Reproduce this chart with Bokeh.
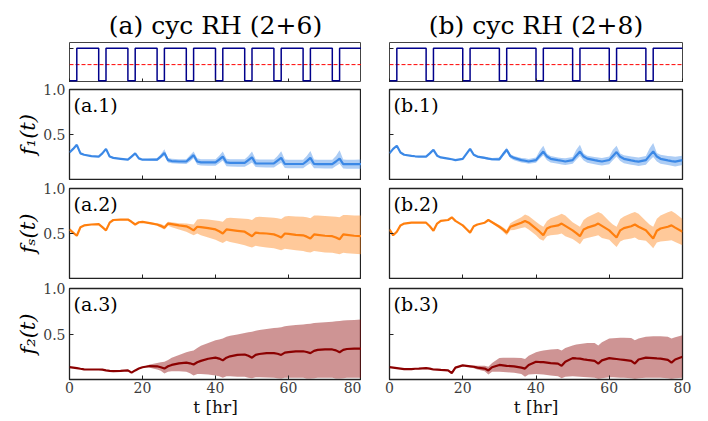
from bokeh.plotting import figure
from bokeh.layouts import column, row
from bokeh.models import FixedTicker, Label, Range1d, PrintfTickFormatter
from bokeh.embed import file_html
from bokeh.resources import INLINE

# ---------------- data ----------------
col_titles = ["(a) cyc RH (2+6)", "(b) cyc RH (2+8)"]
panel_tags = [["(a.1)", "(a.2)", "(a.3)"], ["(b.1)", "(b.2)", "(b.3)"]]
y_labels = ["f\u2081(t)", "f\u209b(t)", "f\u2082(t)"]
x_label = "t [hr]"
x_ticks = [0, 20, 40, 60, 80]
y_ticks = [0.5, 1.0]

# RH square-wave signals (switch times and level held after each time)
rhA_t = [0, 2, 8, 10, 16, 18, 24, 26, 32, 34, 40, 42, 48, 50, 56, 58, 64, 66, 72, 74, 80]
rhA_v = [0, 1, 0, 1, 0, 1, 0, 1, 0, 1, 0, 1, 0, 1, 0, 1, 0, 1, 0, 1, 1]
rhB_t = [0, 2, 10, 12, 20, 22, 30, 32, 40, 42, 50, 52, 60, 62, 70, 72, 80]
rhB_v = [0, 1, 0, 1, 0, 1, 0, 1, 0, 1, 0, 1, 0, 1, 0, 1, 1]
rh_threshold = 0.5

# column (a): time grid
tA = [0, 1, 2, 3, 4, 6,
      8, 9, 10, 11, 12, 14,
      16, 17, 18, 19, 20, 22,
      24, 25, 26, 27, 28, 30,
      32, 33, 34, 35, 36, 38,
      40, 41, 42, 43, 44, 46,
      48, 49, 50, 51, 52, 54,
      56, 57, 58, 59, 60, 62,
      64, 65, 66, 67, 68, 70,
      72, 73, 74, 75, 76, 78,
      80]
a1_mean = [0.30, 0.34, 0.385, 0.29, 0.275, 0.26,
           0.255, 0.29, 0.34, 0.255, 0.24, 0.23,
           0.22, 0.255, 0.29, 0.235, 0.22, 0.22,
           0.22, 0.255, 0.295, 0.215, 0.205, 0.20,
           0.20, 0.235, 0.27, 0.20, 0.19, 0.19,
           0.19, 0.22, 0.255, 0.19, 0.185, 0.185,
           0.185, 0.215, 0.245, 0.18, 0.178, 0.178,
           0.178, 0.21, 0.24, 0.172, 0.172, 0.172,
           0.172, 0.205, 0.24, 0.172, 0.17, 0.17,
           0.17, 0.20, 0.232, 0.17, 0.17, 0.17,
           0.172]
a2_mean = [0.545, 0.51, 0.475, 0.57, 0.59, 0.60,
           0.605, 0.57, 0.535, 0.62, 0.65, 0.655,
           0.655, 0.63, 0.60, 0.625, 0.63, 0.615,
           0.60, 0.585, 0.565, 0.61, 0.605, 0.59,
           0.58, 0.56, 0.535, 0.575, 0.57, 0.56,
           0.545, 0.525, 0.50, 0.545, 0.54, 0.53,
           0.52, 0.495, 0.47, 0.51, 0.505, 0.50,
           0.49, 0.475, 0.455, 0.50, 0.495, 0.485,
           0.48, 0.465, 0.445, 0.49, 0.485, 0.475,
           0.47, 0.455, 0.435, 0.49, 0.485, 0.475,
           0.47]
a3_mean = [0.135, 0.13, 0.125, 0.118, 0.112, 0.11,
           0.11, 0.108, 0.10, 0.095, 0.092, 0.095,
           0.10, 0.075, 0.10, 0.12, 0.135, 0.148,
           0.145, 0.135, 0.12, 0.145, 0.16, 0.178,
           0.185, 0.178, 0.165, 0.19, 0.205, 0.228,
           0.24, 0.23, 0.21, 0.24, 0.255, 0.27,
           0.275, 0.26, 0.24, 0.27, 0.28, 0.29,
           0.29, 0.283, 0.27, 0.295, 0.30, 0.31,
           0.31, 0.302, 0.29, 0.315, 0.325, 0.33,
           0.33, 0.32, 0.30, 0.325, 0.335, 0.34,
           0.34]
# bands of column (a) start at t = 20
tA_band = tA[tA.index(20):]
a1_hi = [0.22, 0.23,
         0.235, 0.28, 0.335, 0.24, 0.23, 0.225,
         0.225, 0.27, 0.31, 0.235, 0.225, 0.225,
         0.225, 0.265, 0.31, 0.23, 0.225, 0.225,
         0.225, 0.26, 0.31, 0.225, 0.222, 0.222,
         0.222, 0.26, 0.315, 0.222, 0.22, 0.22,
         0.22, 0.26, 0.318, 0.222, 0.22, 0.22,
         0.22, 0.26, 0.325, 0.222, 0.22, 0.22,
         0.222]
a1_lo = [0.22, 0.21,
         0.205, 0.235, 0.265, 0.19, 0.18, 0.175,
         0.172, 0.20, 0.235, 0.165, 0.155, 0.153,
         0.152, 0.18, 0.21, 0.148, 0.145, 0.143,
         0.142, 0.165, 0.19, 0.138, 0.135, 0.133,
         0.132, 0.16, 0.185, 0.128, 0.126, 0.125,
         0.125, 0.155, 0.18, 0.125, 0.124, 0.123,
         0.123, 0.15, 0.175, 0.122, 0.12, 0.12,
         0.12]
a2_hi = [0.63, 0.625,
         0.615, 0.605, 0.59, 0.63, 0.625, 0.615,
         0.61, 0.605, 0.60, 0.655, 0.66, 0.655,
         0.645, 0.64, 0.63, 0.67, 0.675, 0.67,
         0.665, 0.66, 0.65, 0.68, 0.685, 0.68,
         0.675, 0.67, 0.66, 0.69, 0.695, 0.69,
         0.685, 0.68, 0.67, 0.70, 0.70, 0.695,
         0.69, 0.685, 0.68, 0.705, 0.705, 0.70,
         0.70]
a2_lo = [0.63, 0.605,
         0.585, 0.565, 0.545, 0.585, 0.57, 0.545,
         0.52, 0.50, 0.48, 0.50, 0.48, 0.455,
         0.43, 0.41, 0.395, 0.42, 0.405, 0.39,
         0.37, 0.355, 0.345, 0.365, 0.355, 0.345,
         0.335, 0.325, 0.315, 0.33, 0.325, 0.315,
         0.305, 0.295, 0.29, 0.305, 0.30, 0.29,
         0.285, 0.278, 0.27, 0.285, 0.28, 0.275,
         0.27]
a3_hi = [0.135, 0.165,
         0.18, 0.19, 0.195, 0.215, 0.24, 0.27,
         0.30, 0.31, 0.32, 0.345, 0.37, 0.40,
         0.43, 0.44, 0.45, 0.47, 0.48, 0.495,
         0.51, 0.52, 0.525, 0.535, 0.545, 0.555,
         0.565, 0.57, 0.575, 0.585, 0.59, 0.60,
         0.605, 0.61, 0.612, 0.62, 0.625, 0.63,
         0.635, 0.64, 0.642, 0.648, 0.65, 0.655,
         0.66]
a3_lo = [0.135, 0.13,
         0.11, 0.095, 0.065, 0.085, 0.09, 0.09,
         0.085, 0.07, 0.045, 0.06, 0.06, 0.055,
         0.045, 0.035, 0.02, 0.035, 0.035, 0.03,
         0.03, 0.02, 0.015, 0.025, 0.025, 0.022,
         0.02, 0.015, 0.01, 0.018, 0.02, 0.018,
         0.018, 0.012, 0.01, 0.015, 0.018, 0.018,
         0.018, 0.012, 0.01, 0.015, 0.018, 0.018,
         0.018]

# column (b): time grid
tB = [0, 1, 2, 3, 4, 6, 7, 8,
      10, 11, 12, 13, 14, 16, 17, 18,
      20, 21, 22, 23, 24, 26, 27, 28,
      30, 31, 32, 33, 34, 36, 37, 38,
      40, 41, 42, 43, 44, 46, 47, 48,
      50, 51, 52, 53, 54, 56, 57, 58,
      60, 61, 62, 63, 64, 66, 67, 68,
      70, 71, 72, 73, 74, 76, 77, 78,
      80]
b1_mean = [0.29, 0.34, 0.375, 0.30, 0.275, 0.262, 0.258, 0.255,
           0.255, 0.29, 0.33, 0.265, 0.245, 0.232, 0.225, 0.215,
           0.23, 0.285, 0.34, 0.275, 0.255, 0.24, 0.232, 0.225,
           0.225, 0.28, 0.33, 0.26, 0.24, 0.215, 0.208, 0.20,
           0.215, 0.265, 0.31, 0.255, 0.23, 0.215, 0.208, 0.20,
           0.215, 0.265, 0.31, 0.255, 0.232, 0.215, 0.207, 0.20,
           0.217, 0.262, 0.305, 0.252, 0.23, 0.213, 0.205, 0.198,
           0.215, 0.265, 0.312, 0.255, 0.23, 0.213, 0.205, 0.198,
           0.215]
b2_mean = [0.545, 0.48, 0.52, 0.59, 0.61, 0.62, 0.62, 0.62,
           0.62, 0.58, 0.53, 0.61, 0.64, 0.65, 0.68, 0.64,
           0.59, 0.55, 0.51, 0.58, 0.60, 0.62, 0.65, 0.625,
           0.575, 0.545, 0.51, 0.575, 0.59, 0.62, 0.64, 0.62,
           0.555, 0.52, 0.48, 0.555, 0.575, 0.59, 0.61, 0.585,
           0.535, 0.505, 0.47, 0.545, 0.565, 0.59, 0.61, 0.585,
           0.535, 0.495, 0.455, 0.535, 0.56, 0.58, 0.60, 0.575,
           0.535, 0.49, 0.445, 0.53, 0.555, 0.575, 0.59, 0.565,
           0.52]
b3_mean = [0.135, 0.13, 0.125, 0.12, 0.115, 0.115, 0.118, 0.12,
           0.125, 0.12, 0.11, 0.108, 0.105, 0.10, 0.07, 0.13,
           0.155, 0.15, 0.145, 0.14, 0.13, 0.12, 0.10, 0.135,
           0.16, 0.155, 0.15, 0.148, 0.145, 0.13, 0.12, 0.16,
           0.195, 0.192, 0.19, 0.185, 0.18, 0.175, 0.15, 0.195,
           0.235, 0.232, 0.23, 0.222, 0.215, 0.205, 0.175, 0.21,
           0.235, 0.23, 0.225, 0.22, 0.215, 0.205, 0.175, 0.22,
           0.24, 0.238, 0.235, 0.232, 0.23, 0.215, 0.185, 0.22,
           0.25]
# bands of column (b) start at t = 20
tB_band = tB[tB.index(20):]
b1_hi = [0.23, 0.285, 0.345, 0.285, 0.265, 0.252, 0.245, 0.24,
         0.245, 0.30, 0.355, 0.28, 0.262, 0.24, 0.235, 0.228,
         0.245, 0.32, 0.375, 0.285, 0.26, 0.245, 0.24, 0.235,
         0.25, 0.33, 0.385, 0.29, 0.265, 0.25, 0.245, 0.24,
         0.255, 0.33, 0.375, 0.29, 0.27, 0.255, 0.25, 0.245,
         0.26, 0.345, 0.405, 0.295, 0.275, 0.262, 0.257, 0.252,
         0.265]
b1_lo = [0.23, 0.285, 0.335, 0.265, 0.245, 0.228, 0.22, 0.21,
         0.205, 0.255, 0.305, 0.235, 0.215, 0.19, 0.183, 0.175,
         0.185, 0.23, 0.27, 0.215, 0.19, 0.175, 0.167, 0.16,
         0.175, 0.22, 0.26, 0.21, 0.185, 0.17, 0.162, 0.155,
         0.17, 0.215, 0.255, 0.205, 0.18, 0.165, 0.157, 0.15,
         0.165, 0.21, 0.25, 0.20, 0.175, 0.16, 0.152, 0.145,
         0.16]
b2_hi = [0.59, 0.55, 0.51, 0.58, 0.60, 0.62, 0.655, 0.635,
         0.595, 0.57, 0.54, 0.615, 0.64, 0.68, 0.71, 0.695,
         0.63, 0.60, 0.575, 0.64, 0.67, 0.70, 0.72, 0.70,
         0.625, 0.60, 0.575, 0.65, 0.68, 0.72, 0.74, 0.72,
         0.635, 0.60, 0.575, 0.66, 0.69, 0.725, 0.74, 0.72,
         0.64, 0.60, 0.575, 0.665, 0.70, 0.735, 0.75, 0.725,
         0.66]
b2_lo = [0.59, 0.55, 0.51, 0.58, 0.60, 0.62, 0.645, 0.615,
         0.555, 0.52, 0.48, 0.535, 0.54, 0.56, 0.57, 0.545,
         0.48, 0.44, 0.42, 0.47, 0.48, 0.49, 0.50, 0.47,
         0.44, 0.41, 0.38, 0.44, 0.45, 0.47, 0.48, 0.45,
         0.43, 0.39, 0.35, 0.41, 0.43, 0.445, 0.455, 0.43,
         0.42, 0.38, 0.335, 0.40, 0.41, 0.42, 0.425, 0.405,
         0.37]
b3_hi = [0.155, 0.155, 0.155, 0.155, 0.15, 0.15, 0.14, 0.18,
         0.235, 0.238, 0.24, 0.24, 0.24, 0.235, 0.225, 0.26,
         0.30, 0.31, 0.32, 0.325, 0.33, 0.335, 0.32, 0.345,
         0.375, 0.385, 0.39, 0.395, 0.40, 0.40, 0.375, 0.41,
         0.45, 0.452, 0.455, 0.458, 0.46, 0.455, 0.43, 0.45,
         0.47, 0.472, 0.474, 0.475, 0.475, 0.47, 0.45, 0.465,
         0.485]
b3_lo = [0.155, 0.145, 0.135, 0.125, 0.11, 0.09, 0.055, 0.085,
         0.085, 0.082, 0.08, 0.078, 0.075, 0.06, 0.03, 0.055,
         0.06, 0.058, 0.055, 0.05, 0.045, 0.035, 0.015, 0.03,
         0.035, 0.033, 0.03, 0.028, 0.025, 0.02, 0.008, 0.015,
         0.025, 0.025, 0.022, 0.02, 0.02, 0.015, 0.008, 0.015,
         0.02, 0.02, 0.02, 0.018, 0.018, 0.015, 0.008, 0.015,
         0.02]

series_colors = ["#3b88e6", "#ff7f0e", "#8b0000"]

# ---------------- layout / style ----------------
FONT = "DejaVu Serif"
INK = "#222222"
TICK_TXT = "#3c3c3c"
COL_W = [361, 339]
BORDER_L = [69, 28]
BORDER_R = [0, 18]
ROW_H = [82, 98, 99, 141]
BORDER_T = [42, 7, 8, 9]
BORDER_B = [0, 1, 1, 41]


def hide_labels(ax):
    ax.major_label_text_color = None
    ax.major_label_text_font_size = "0px"
    ax.major_label_standoff = 0


def make_fig(c, r, y_range):
    p = figure(width=COL_W[c], height=ROW_H[r], x_range=Range1d(0, 80), y_range=y_range,
               output_backend="svg", toolbar_location=None,
               min_border_left=BORDER_L[c], min_border_right=BORDER_R[c],
               min_border_top=BORDER_T[r], min_border_bottom=BORDER_B[r])
    p.grid.visible = False
    p.outline_line_color = INK
    p.outline_line_width = 1.3
    p.outline_line_alpha = 1.0
    p.background_fill_color = "white"
    p.border_fill_color = "white"
    for ax in (p.xaxis[0], p.yaxis[0]):
        ax.axis_line_color = None
        ax.major_tick_in = 4
        ax.major_tick_out = 0
        ax.major_tick_line_color = INK
        ax.minor_tick_line_color = None
        ax.major_label_text_font = FONT
        ax.major_label_text_font_size = "14px"
        ax.major_label_text_color = TICK_TXT
    p.xaxis.ticker = FixedTicker(ticks=x_ticks)
    p.xaxis.major_label_standoff = 2
    p.yaxis.major_label_standoff = 4
    if r < 3:
        hide_labels(p.xaxis[0])
    else:
        p.xaxis.axis_label = x_label
        p.xaxis.axis_label_text_font = FONT
        p.xaxis.axis_label_text_font_size = "17px"
        p.xaxis.axis_label_text_font_style = "normal"
        p.xaxis.axis_label_text_color = "#111111"
        p.xaxis.axis_label_standoff = 1
    if c == 1 or r == 0:
        hide_labels(p.yaxis[0])
    return p


rh_sets = [(rhA_t, rhA_v), (rhB_t, rhB_v)]
col_data = [
    (tA, tA_band, [a1_mean, a2_mean, a3_mean], [a1_lo, a2_lo, a3_lo], [a1_hi, a2_hi, a3_hi]),
    (tB, tB_band, [b1_mean, b2_mean, b3_mean], [b1_lo, b2_lo, b3_lo], [b1_hi, b2_hi, b3_hi]),
]

grid = [[None, None] for _ in range(4)]
for c in range(2):
    # signal panel
    p = make_fig(c, 0, Range1d(-0.05, 1.18))
    p.yaxis.ticker = FixedTicker(ticks=[1])
    p.title.text = col_titles[c]
    p.title.align = "center"
    p.title.text_font = FONT
    p.title.text_font_size = "25px"
    p.title.text_font_style = "normal"
    p.title.text_color = "black"
    p.title.standoff = 5
    p.outline_line_color = "#444444"
    p.outline_line_width = 1.0
    p.line([0, 80], [rh_threshold, rh_threshold], line_color="red", line_width=1.0, line_dash="4 2")
    p.step(rh_sets[c][0], rh_sets[c][1], mode="after", line_color="#00008b", line_width=1.5)
    grid[0][c] = p

    t, tb, means, los, his = col_data[c]
    for k in range(3):
        r = k + 1
        p = make_fig(c, r, Range1d(0, 1))
        p.yaxis.ticker = FixedTicker(ticks=y_ticks)
        p.yaxis.formatter = PrintfTickFormatter(format="%.1f")
        if c == 0:
            p.yaxis.axis_label = y_labels[k]
            p.yaxis.axis_label_text_font = FONT
            p.yaxis.axis_label_text_font_size = "21px"
            p.yaxis.axis_label_text_font_style = "italic"
            p.yaxis.axis_label_text_color = "black"
            p.yaxis.axis_label_standoff = 0
        p.varea(x=tb, y1=los[k], y2=his[k], fill_color=series_colors[k], fill_alpha=0.42)
        p.line(t, means[k], line_color=series_colors[k], line_width=2.2)
        p.add_layout(Label(x=0, y=1, x_offset=4, y_offset=-4, text=panel_tags[c][k],
                           text_baseline="top", text_align="left", text_font=FONT,
                           text_font_size="19px", text_color="black"))
        grid[r][c] = p

layout = column(*[row(grid[r][0], grid[r][1]) for r in range(4)])
open("out.html", "w").write(file_html(layout, INLINE))
